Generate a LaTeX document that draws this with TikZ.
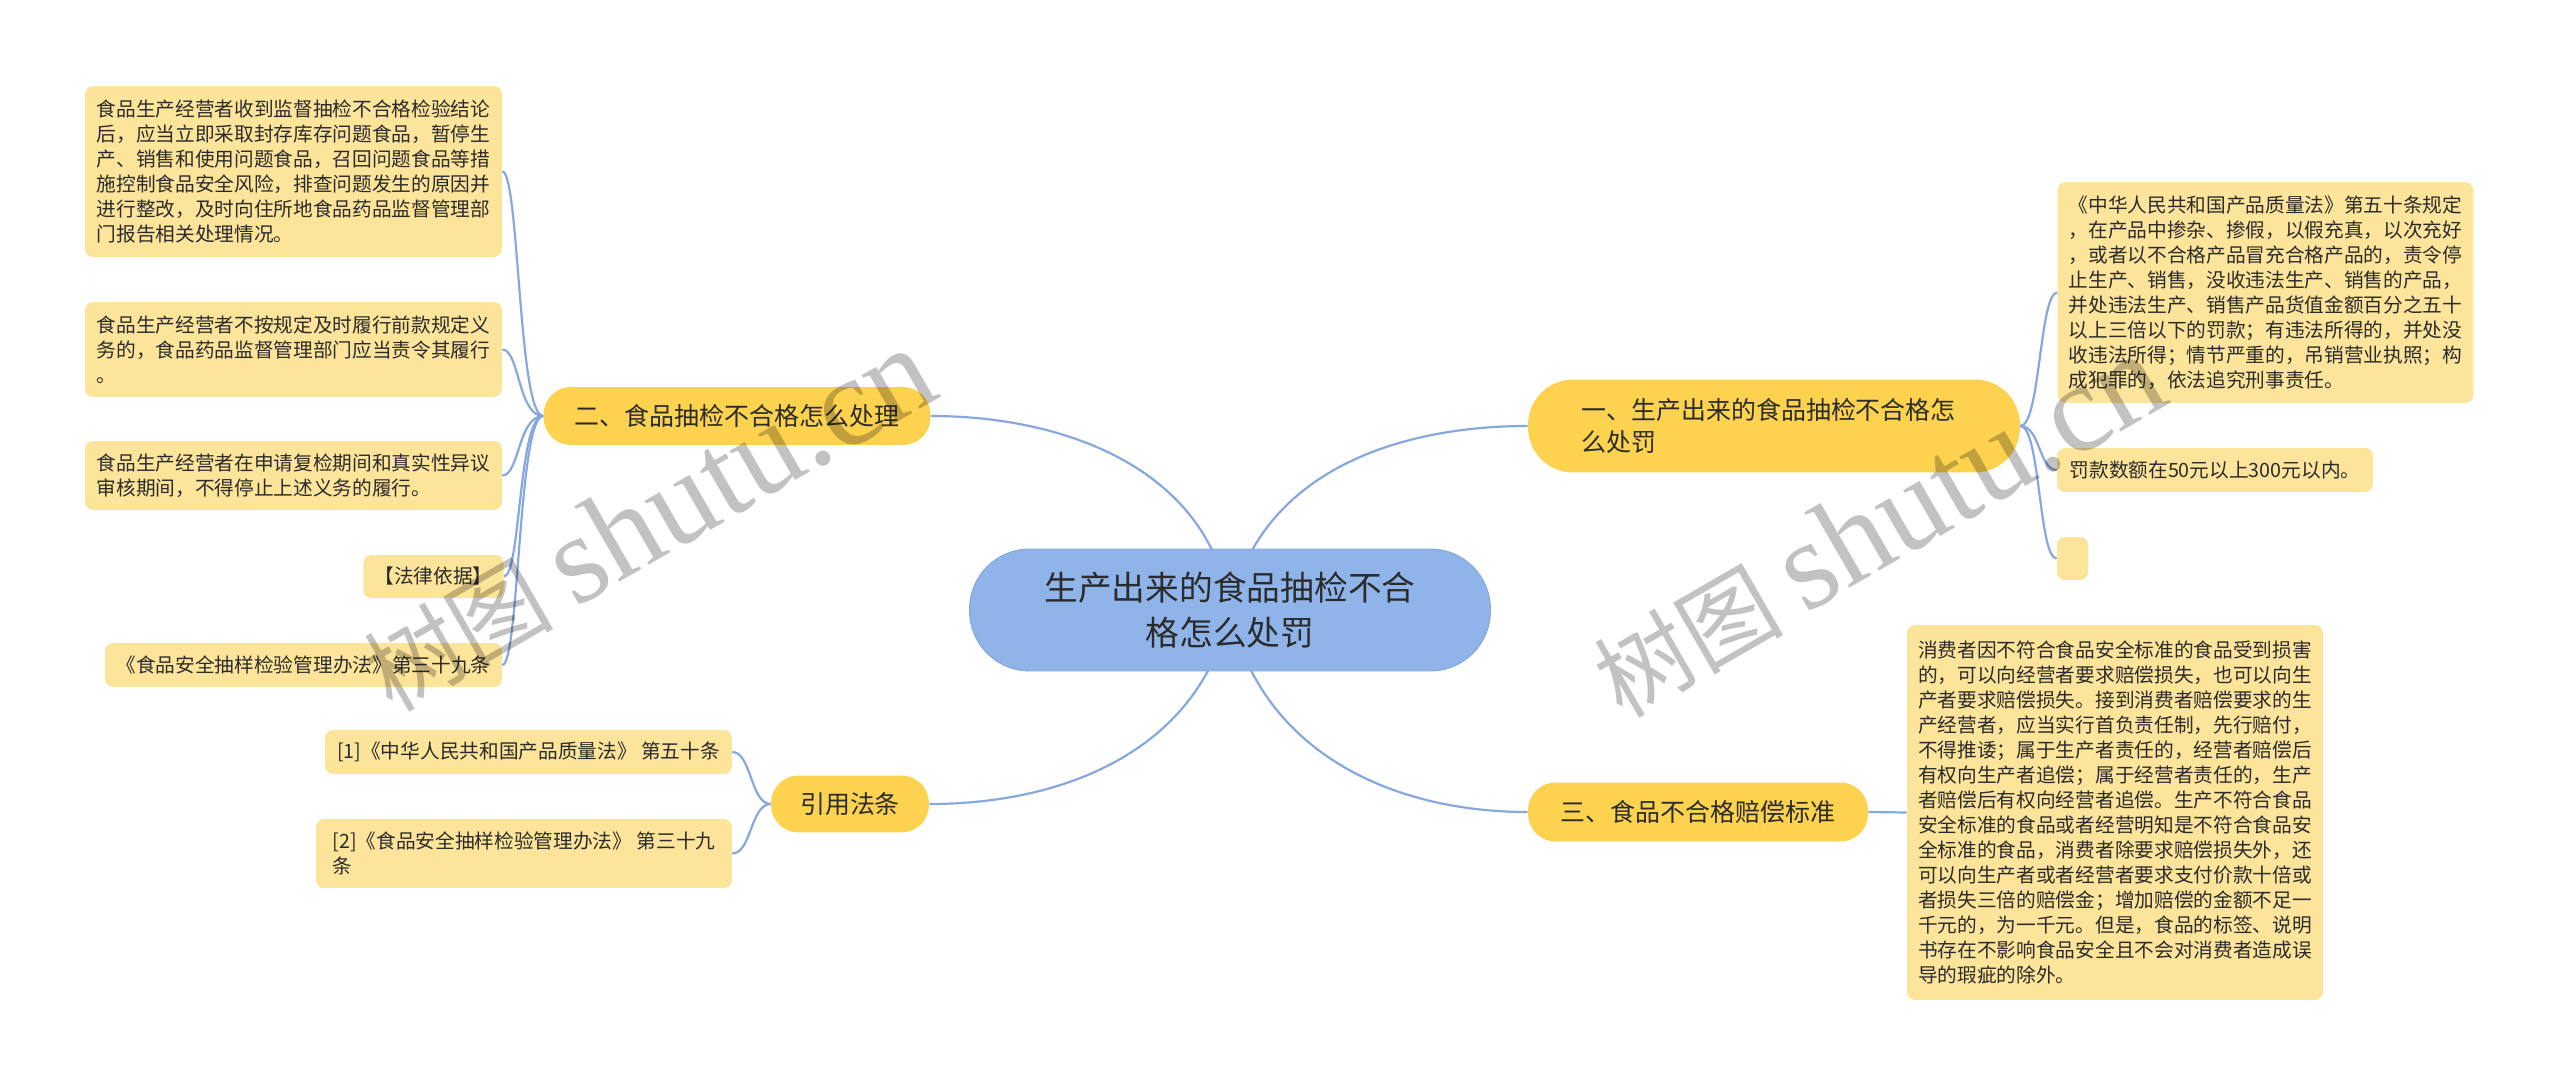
\documentclass[tikz,border=0pt]{standalone}
\usepackage{fontspec}
\setmainfont{Noto Sans CJK SC}
\newfontfamily\wmlatin{Liberation Serif}
\usepackage{tikz}
\usetikzlibrary{backgrounds}
\definecolor{rootblue}{HTML}{8FB4EA}
\definecolor{branchgold}{HTML}{FDD24F}
\definecolor{leafyellow}{HTML}{FDE49B}
\definecolor{linkblue}{HTML}{86A8DE}
\definecolor{inkgrey}{HTML}{2B2B2B}

\begin{document}
\begin{tikzpicture}[
    x=0.02cm, y=-0.02cm,
    root/.style={rectangle, fill=rootblue, draw=rootblue!92!black, line width=0.5pt,
                 rounded corners=1.2cm, align=center, text=inkgrey, inner sep=0pt,
                 minimum width=10.42cm, minimum height=2.44cm,
                 font=\fontsize{19.2}{26}\selectfont},
    branch/.style={rectangle, fill=branchgold, rounded corners=0.55cm,
                   align=center, text=inkgrey, inner sep=0pt,
                   font=\fontsize{14.2}{18.2}\selectfont},
    leaf/.style={rectangle, fill=leafyellow, rounded corners=0.16cm,
                 align=left, text=inkgrey, inner xsep=0.22cm, inner ysep=0pt,
                 font=\fontsize{11.2}{14.2}\selectfont},
    link/.style={draw=linkblue, line width=1.25pt},
    wmark/.style={text=black, opacity=0.24, rotate=30, inner sep=0pt},
]
\useasboundingbox (0,0) rectangle (2560,1087);

% ============== root ==============
\node[root] (root) at (1230,610) {生产出来的食品抽检不合\\格怎么处罚};

% ============== branches ==============
\node[branch, minimum width=9.84cm, minimum height=1.86cm, rounded corners=0.9cm,
      align=left, text width=7.7cm] (b1) at (1774,426)
    {一、生产出来的食品抽检不合格怎\\么处罚};
\node[branch, minimum width=7.74cm, minimum height=1.16cm] (b2) at (737,416)
    {二、食品抽检不合格怎么处理};
\node[branch, minimum width=6.80cm, minimum height=1.18cm] (b3) at (1698,812)
    {三、食品不合格赔偿标准};
\node[branch, minimum width=3.16cm, minimum height=1.14cm] (b4) at (850,804)
    {引用法条};

% ============== leaves of b2 ==============
\node[leaf, minimum width=8.34cm, minimum height=3.42cm] (l1) at (293.5,171.5)
    {食品生产经营者收到监督抽检不合格检验结论\\
     后，应当立即采取封存库存问题食品，暂停生\\
     产、销售和使用问题食品，召回问题食品等措\\
     施控制食品安全风险，排查问题发生的原因并\\
     进行整改，及时向住所地食品药品监督管理部\\
     门报告相关处理情况。};
\node[leaf, minimum width=8.34cm, minimum height=1.90cm] (l2) at (293.5,349.5)
    {食品生产经营者不按规定及时履行前款规定义\\
     务的，食品药品监督管理部门应当责令其履行\\
     。};
\node[leaf, minimum width=8.34cm, minimum height=1.38cm] (l3) at (293.5,475.5)
    {食品生产经营者在申请复检期间和真实性异议\\
     审核期间，不得停止上述义务的履行。};
\node[leaf, minimum width=2.74cm, minimum height=0.86cm] (l4) at (433.5,576.5)
    {【法律依据】};
\node[leaf, minimum width=7.94cm, minimum height=0.88cm] (l5) at (303.5,665)
    {《食品安全抽样检验管理办法》第三十九条};

% ============== leaves of b4 ==============
\node[leaf, minimum width=8.14cm, minimum height=0.88cm] (r1) at (528.5,752)
    {[1]《中华人民共和国产品质量法》 第五十条};
\node[leaf, minimum width=8.32cm, minimum height=1.38cm] (r2) at (524,853.5)
    {[2]《食品安全抽样检验管理办法》 第三十九\\条};

% ============== leaves of b1 ==============
\node[leaf, minimum width=8.30cm, minimum height=4.42cm] (ra) at (2265.5,292.5)
    {《中华人民共和国产品质量法》第五十条规定\\
     ，在产品中掺杂、掺假，以假充真，以次充好\\
     ，或者以不合格产品冒充合格产品的，责令停\\
     止生产、销售，没收违法生产、销售的产品，\\
     并处违法生产、销售产品货值金额百分之五十\\
     以上三倍以下的罚款；有违法所得的，并处没\\
     收违法所得；情节严重的，吊销营业执照；构\\
     成犯罪的，依法追究刑事责任。};
\node[leaf, minimum width=6.32cm, minimum height=0.88cm] (rb) at (2215,470)
    {罚款数额在50元以上300元以内。};
\node[leaf, minimum width=0.62cm, minimum height=0.86cm, inner xsep=0pt] (rc) at (2072.5,558.5) {};

% ============== leaf of b3 ==============
\node[leaf, minimum width=8.32cm, minimum height=7.50cm] (c3) at (2115,812.5)
    {消费者因不符合食品安全标准的食品受到损害\\
     的，可以向经营者要求赔偿损失，也可以向生\\
     产者要求赔偿损失。接到消费者赔偿要求的生\\
     产经营者，应当实行首负责任制，先行赔付，\\
     不得推诿；属于生产者责任的，经营者赔偿后\\
     有权向生产者追偿；属于经营者责任的，生产\\
     者赔偿后有权向经营者追偿。生产不符合食品\\
     安全标准的食品或者经营明知是不符合食品安\\
     全标准的食品，消费者除要求赔偿损失外，还\\
     可以向生产者或者经营者要求支付价款十倍或\\
     者损失三倍的赔偿金；增加赔偿的金额不足一\\
     千元的，为一千元。但是，食品的标签、说明\\
     书存在不影响食品安全且不会对消费者造成误\\
     导的瑕疵的除外。};

% ============== connectors ==============
\begin{scope}[on background layer]
\fill[white] (0,0) rectangle (2560,1087);
\draw[link] (root.center) .. controls +(28,-134) and +(-137,0) .. (b1.west);
\draw[link] (root.center) .. controls +(-19,-138) and +(139,0) .. (b2.east);
\draw[link] (root.center) .. controls +(29,138) and +(-141,0) .. (b3.west);
\draw[link] (root.center) .. controls +(-29,137) and +(140,0) .. (b4.east);

\foreach \leafname in {l1,l2,l3,l4,l5}
    \draw[link] (b2.west) .. controls +(-25,0) and +(17,0) .. (\leafname.east);
\foreach \leafname in {ra,rb,rc}
    \draw[link] (b1.east) .. controls +(20,0) and +(-18,0) .. (\leafname.west);
\foreach \leafname in {r1,r2}
    \draw[link] (b4.west) .. controls +(-20,0) and +(19,0) .. (\leafname.east);
\draw[link] (b3.east) -- (c3.west);
\end{scope}

% ============== watermarks ==============
\node[wmark] (wm1) at (648,520)
    {\fontsize{54}{54}\selectfont 树图\ \wmlatin\fontsize{72}{72}\selectfont shutu.cn};
\node[wmark] (wm2) at (1878,526)
    {\fontsize{54}{54}\selectfont 树图\ \wmlatin\fontsize{72}{72}\selectfont shutu.cn};

\end{tikzpicture}
\end{document}
